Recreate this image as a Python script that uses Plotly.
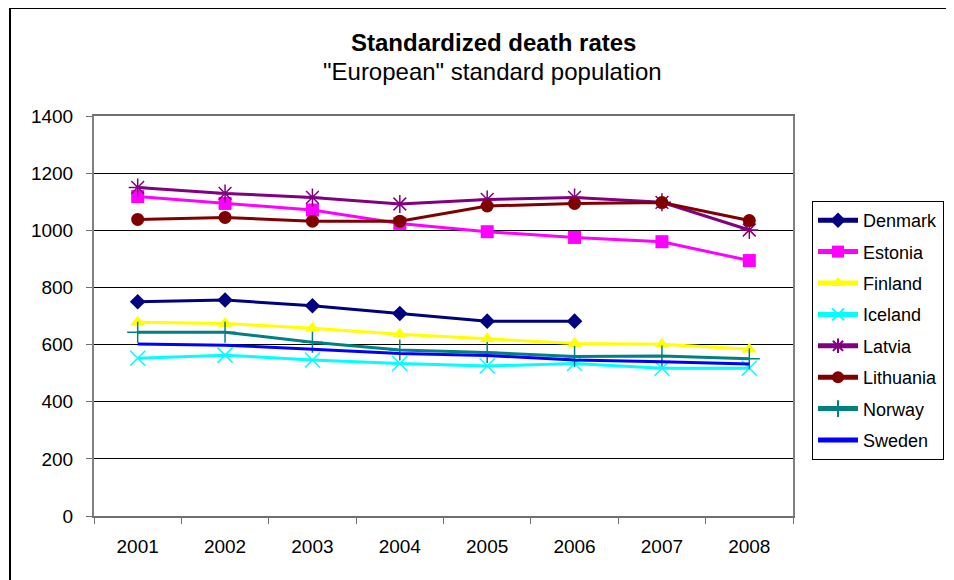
import plotly.graph_objects as go

years = ["2001", "2002", "2003", "2004", "2005", "2006", "2007", "2008"]

denmark = [750, 756, 736, 709, 682, 682, None, None]
estonia = [1118, 1094, 1071, 1024, 995, 975, 960, 894]
finland = [678, 674, 657, 636, 620, 604, 601, 584]
iceland = [552, 563, 546, 534, 525, 534, 517, 517]
latvia = [1150, 1129, 1115, 1092, 1108, 1115, 1098, 1001]
lithuania = [1038, 1045, 1032, 1032, 1085, 1094, 1097, 1034]
norway = [643, 643, 608, 581, 572, 558, 560, 550]
sweden = [602, 598, 584, 569, 562, 546, 540, 532]

series = [
    ("Denmark", denmark, "#000080", "diamond"),
    ("Estonia", estonia, "#FF00FF", "square"),
    ("Finland", finland, "#FFFF00", "triangle-up"),
    ("Iceland", iceland, "#00FFFF", "x-thin-open"),
    ("Latvia", latvia, "#800080", "asterisk-open"),
    ("Lithuania", lithuania, "#800000", "circle"),
    ("Norway", norway, "#008080", "cross-thin-open"),
    ("Sweden", sweden, "#0000FF", None),
]

# page has an 8px body margin; figure coords = page coords - 8
L, T, PW, PH = 86, 108, 699, 400
W, H = 954, 580

fig = go.Figure()
for name, vals, color, sym in series:
    if sym is None:
        mode = "lines"
        marker = dict()
    elif sym.endswith("-open"):
        mode = "lines+markers"
        marker = dict(symbol=sym, size=15, color=color, line=dict(color=color, width=1.5))
    else:
        mode = "lines+markers"
        size = 13 if sym != "diamond" else 12
        marker = dict(symbol=sym, size=size, color=color, line=dict(width=0))
    fig.add_trace(go.Scatter(
        x=years, y=vals, name=name, mode=mode, legendgroup=name,
        line=dict(color=color, width=3),
        marker=marker, connectgaps=False,
    ))

def px(xp):
    return (xp - 8 - L) / PW

def py(yp):
    return (T + PH - (yp - 8)) / PH

fig.update_layout(
    width=W, height=H,
    margin=dict(l=L, r=W - L - PW, t=T, b=H - T - PH),
    paper_bgcolor="white", plot_bgcolor="white",
    font=dict(family="Liberation Sans, Arial, sans-serif", size=19, color="black"),
    showlegend=True,
    legend=dict(
        x=px(812), y=py(201), xanchor="left", yanchor="top",
        bordercolor="black", borderwidth=1,
        font=dict(size=18, color="black"),
        tracegroupgap=5, itemsizing="constant", itemwidth=40,
    ),
    xaxis=dict(
        type="category", range=[-0.5, 7.5],
        showgrid=False, showline=True, linecolor="#707070", linewidth=2,
        mirror=True, ticks="outside", ticklen=6, tickcolor="#707070",
        tickson="boundaries", zeroline=False, ticklabelstandoff=12,
    ),
    yaxis=dict(
        range=[0, 1400], dtick=200, showgrid=True, gridcolor="black", gridwidth=1,
        showline=True, linecolor="#808080", linewidth=2, mirror=True,
        ticks="outside", ticklen=6, tickcolor="#707070", zeroline=False,
        ticklabelstandoff=9,
    ),
    annotations=[
        dict(text="<b>Standardized death rates</b>", xref="paper", yref="paper",
             x=px(493), y=py(43), xanchor="center", yanchor="middle",
             showarrow=False, font=dict(size=24, color="black")),
        dict(text="\"European\" standard population", xref="paper", yref="paper",
             x=px(492), y=py(72), xanchor="center", yanchor="middle",
             showarrow=False, font=dict(size=24, color="black")),
    ],
    shapes=[
        dict(type="line", xref="paper", yref="paper",
             x0=px(9), x1=px(970), y0=py(8), y1=py(8),
             line=dict(color="black", width=2)),
        dict(type="line", xref="paper", yref="paper",
             x0=px(10), x1=px(10), y0=py(8), y1=py(600),
             line=dict(color="black", width=2)),
    ],
)

fig.write_html("out.html")
